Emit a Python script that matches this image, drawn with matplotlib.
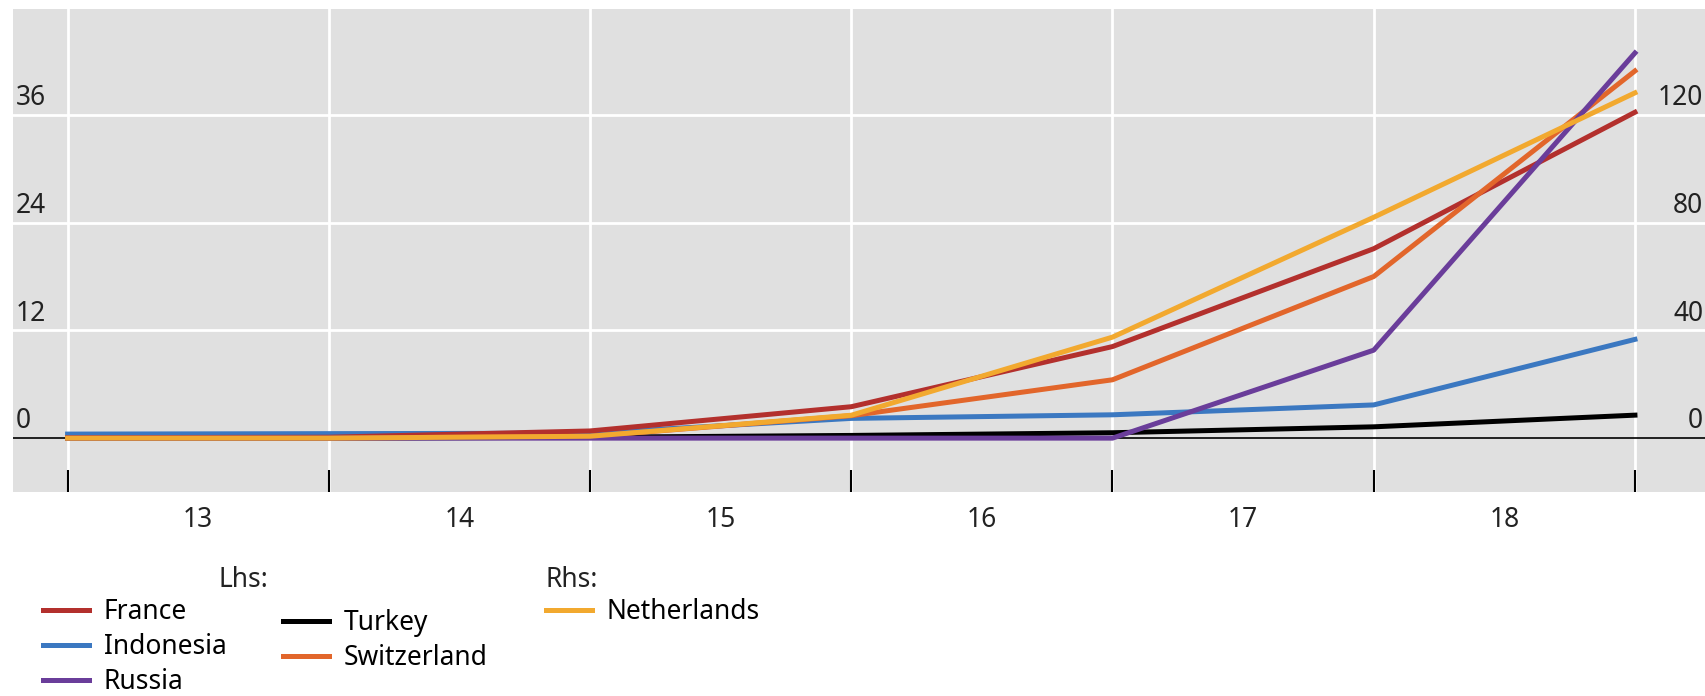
import numpy as np
import matplotlib
matplotlib.use("Agg")
import matplotlib.pyplot as plt

plt.rcParams['font.family'] = ['Noto Sans', 'DejaVu Sans']

# 数据：年末点，0 = 2013年初 ... 6 = 2018年末
x = [0, 1, 2, 3, 4, 5, 6]
year_labels = ['13', '14', '15', '16', '17', '18']

france = [0.05, 0.1, 0.8, 3.5, 10.2, 21.1, 36.3]
indonesia = [0.45, 0.5, 0.55, 2.2, 2.6, 3.7, 11.0]
russia = [0.0, 0.0, 0.0, 0.0, 0.0, 9.8, 42.9]
turkey = [0.0, 0.0, 0.1, 0.3, 0.6, 1.26, 2.56]
switzerland = [0.0, 0.0, 0.2, 2.5, 6.5, 18.0, 40.9]
netherlands = [0.0, 0.0, 0.7, 8.5, 37.5, 82.0, 128.2]   # 右轴

lhs_ticks = [0, 12, 24, 36]
rhs_ticks = [0, 40, 80, 120]

bg = '#e0e0e0'
fs = 19

fig = plt.figure(figsize=(17.06, 6.96), dpi=100)
ax = fig.add_axes([13 / 1706, 1 - 492 / 696, 1 - 13 / 1706, (492 - 9) / 696])
ax.set_facecolor(bg)
ax.set_xlim(-0.209, 6.272)
ax.set_ylim(-6.0, 47.8)
for s in ax.spines.values():
    s.set_visible(False)

# 网格
for v in lhs_ticks[1:]:
    ax.axhline(v, color='white', lw=2, zorder=1)
for xi in x:
    ax.axvline(xi, color='white', lw=2, zorder=1)
ax.axhline(0, color='black', lw=1.2, zorder=2)

l_fr, = ax.plot(x, france, color='#b3302d', lw=3.6, label='France', zorder=4)
l_id, = ax.plot(x, indonesia, color='#3b78c1', lw=3.6, label='Indonesia', zorder=3)
l_ru, = ax.plot(x, russia, color='#6a3d9a', lw=3.6, label='Russia', zorder=5)
l_tu, = ax.plot(x, turkey, color='black', lw=3.6, label='Turkey', zorder=3)
l_sw, = ax.plot(x, switzerland, color='#e2662b', lw=3.6, label='Switzerland', zorder=4)

ax2 = ax.twinx()
ax2.set_ylim(-6.0 * 10 / 3, 47.8 * 10 / 3)
for s in ax2.spines.values():
    s.set_visible(False)
l_nl, = ax2.plot(x, netherlands, color='#f2a92f', lw=3.6, label='Netherlands', zorder=4)

# 刻度
ax.set_yticks([])
ax2.set_yticks([])
ax.set_xticks(x)
ax.set_xticklabels([])
ax.tick_params(axis='x', which='major', direction='in', length=16, width=1.5, color='black')
ax.set_xticks([i + 0.5 for i in range(len(year_labels))], minor=True)
ax.set_xticklabels(year_labels, minor=True, fontsize=fs, color='#222222')
ax.tick_params(axis='x', which='minor', length=0, pad=10)

for v in lhs_ticks:
    ax.annotate(str(v), xy=(0, v), xycoords=('axes fraction', 'data'),
                xytext=(2, 2), textcoords='offset points',
                ha='left', va='bottom', fontsize=fs, color='#222222')
for v in rhs_ticks:
    ax2.annotate(str(v), xy=(1, v), xycoords=('axes fraction', 'data'),
                 xytext=(-2, 2), textcoords='offset points',
                 ha='right', va='bottom', fontsize=fs, color='#222222')

# 图例
leg_kw = dict(frameon=False, fontsize=fs, handlelength=1.75, handletextpad=0.55,
              labelspacing=0.27, borderpad=0, borderaxespad=0, loc='upper left')
leg1 = fig.legend(handles=[l_fr, l_id, l_ru], bbox_to_anchor=(43 / 1706, 1 - 598 / 696), **leg_kw)
leg2 = fig.legend(handles=[l_tu, l_sw], bbox_to_anchor=(283 / 1706, 1 - 609 / 696), **leg_kw)
leg3 = fig.legend(handles=[l_nl], bbox_to_anchor=(546 / 1706, 1 - 598 / 696), **leg_kw)
fig.text(268 / 1706, 1 - 580 / 696, 'Lhs:', ha='right', va='center', fontsize=fs, color='#222222')
fig.text(546 / 1706, 1 - 580 / 696, 'Rhs:', ha='left', va='center', fontsize=fs, color='#222222')

fig.savefig('out.png', dpi=100)
